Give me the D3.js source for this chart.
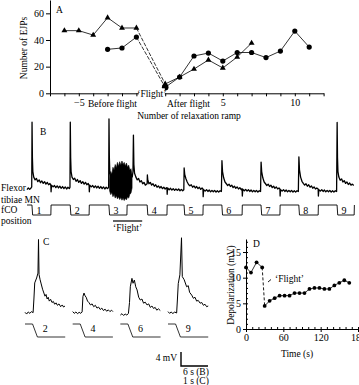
<!DOCTYPE html>
<html>
<head>
<meta charset="utf-8">
<script src="https://cdn.jsdelivr.net/npm/d3@7"></script>
<style>
body { margin: 0; background: #fff; }
svg text { font-family: "Liberation Serif", "Times New Roman", serif; fill: #000; }
</style>
</head>
<body>
<script>
// ---------- panel A : number of EJPs per relaxation ramp
var rampBefore = [-6, -5, -4, -3, -2, -1];
var ejpTriBefore = [47, 47, 43.7, 56.7, 49, 49];
var rampCircBefore = [-3, -2, -1];
var ejpCircBefore = [33, 34, 42.2];
var rampFlight = 1;
var ejpTriFlight = 7;
var ejpCircFlight = 4.5;
var rampTriAfter = [2, 3, 4, 5, 6, 7];
var ejpTriAfter = [12.2, 18.2, 25, 19, 27.2, 37.7];
var rampCircAfter = [2, 3, 4, 5, 6, 7, 8, 9, 10, 11];
var ejpCircAfter = [12.2, 28, 30.2, 24.2, 30.6, 30.6, 26.8, 31.7, 46.7, 34.7];
var ticksAy = [0, 20, 40, 60];
var ticksAxLabelled = [-5, 5, 10];

// ---------- panel B : flexor tibiae MN recording (s, mV) and fCO ramps (s)
var rampFall = [1.1, 9.6, 18.2, 26.7, 34.9, 43.3, 52.0, 60.4, 68.9];
var rampRise = [5.3, 13.8, 22.2, 31.1, 39.1, 47.8, 56.2, 64.7, 72.7];
var rampNames = ['1', '2', '3', '4', '5', '6', '7', '8', '9'];
var traceB = [
  [0,-0.2],[0.3,0.3],[0.6,-0.1],[0.9,0.3],[1.05,0.6],[1.12,19.1],[1.2,9],[1.3,5],[1.5,3.4],[1.8,2.6],[2.1,3.0],[2.4,2.1],[2.7,2.6],[3.0,1.8],[3.3,2.3],[3.6,1.6],[3.9,2.1],[4.2,1.4],[4.5,1.9],[4.8,1.2],[5.1,1.6],[5.3,1.0],[5.35,-0.8],[5.45,1.1],[5.8,0.6],[6.1,1.0],[6.4,0.4],[6.7,0.9],[7.0,0.3],[7.3,0.8],[7.6,0.2],[7.9,0.7],[8.2,0.1],[8.5,0.6],[8.8,0.0],[9.1,0.5],[9.4,0.1],
  [9.55,0.5],[9.62,19.1],[9.7,9],[9.8,5],[10.0,3.4],[10.3,2.7],[10.6,3.1],[10.9,2.2],[11.2,2.7],[11.5,1.9],[11.8,2.4],[12.1,1.6],[12.4,2.1],[12.7,1.4],[13.0,1.9],[13.3,1.2],[13.6,1.6],[13.8,1.0],[13.85,-0.8],[13.95,1.1],[14.3,0.6],[14.6,1.0],[14.9,0.4],[15.2,0.9],[15.5,0.3],[15.8,0.8],[16.1,0.2],[16.4,0.7],[16.7,0.1],[17.0,0.6],[17.3,0.0],[17.6,0.5],[17.9,0.1],
  [18.15,0.5],[18.22,20],[18.3,9],[18.4,5],[18.6,3],[19.0,4],[19.5,2],[20.0,4],[20.5,2],[21.0,4.5],[21.5,2],[22.0,4.5],[22.5,2.5],[23.0,4],[23.4,3.5],[23.55,5],[23.65,15.4],[23.75,7],[23.9,4.5],[24.2,3.4],[24.5,2.6],[24.8,3.0],[25.1,2.0],[25.4,2.4],[25.7,1.5],[26.0,1.9],[26.3,1.1],[26.6,1.4],[26.7,1.5],[26.75,4.0],[26.85,2.5],[27.1,1.5],[27.4,1.9],[27.7,1.1],[28.0,1.5],[28.3,0.8],[28.6,1.2],[28.9,0.5],[29.2,0.9],[29.5,0.3],[29.8,0.7],[30.1,0.1],[30.4,0.5],[30.7,0.0],[31.0,0.4],
  [31.1,0.2],[31.15,-1.5],[31.25,0.3],[31.6,-0.2],[31.9,0.2],[32.2,-0.3],[32.5,0.1],[32.8,-0.4],[33.1,0.0],[33.4,-0.4],[33.7,0.0],[34.0,-0.5],[34.3,-0.1],[34.6,-0.5],[34.85,-0.2],
  [34.92,6.0],[35.05,4.2],[35.3,3.0],[35.6,2.0],[35.9,1.3],[36.2,0.9],[36.5,1.2],[36.8,0.5],[37.1,0.9],[37.4,0.3],[37.7,0.7],[38.0,0.1],[38.3,0.5],[38.6,-0.1],[38.9,0.3],[39.1,0.0],[39.15,-2.2],[39.25,-0.2],[39.6,-0.6],[39.9,-0.2],[40.2,-0.7],[40.5,-0.3],[40.8,-0.8],[41.1,-0.4],[41.4,-0.8],[41.7,-0.4],[42.0,-0.9],[42.3,-0.5],[42.6,-0.9],[42.9,-0.5],[43.2,-0.7],
  [43.32,8.1],[43.45,5],[43.7,3.2],[44.0,2.0],[44.3,1.5],[44.6,1.0],[44.9,1.4],[45.2,0.7],[45.5,1.1],[45.8,0.4],[46.1,0.8],[46.4,0.2],[46.7,0.6],[47.0,0.0],[47.3,0.4],[47.6,-0.2],[47.8,0.1],[47.85,-2.0],[47.95,-0.1],[48.3,-0.5],[48.6,-0.1],[48.9,-0.6],[49.2,-0.2],[49.5,-0.7],[49.8,-0.3],[50.1,-0.8],[50.4,-0.4],[50.7,-0.8],[51.0,-0.4],[51.3,-0.9],[51.6,-0.5],[51.9,-0.7],
  [52.02,7.7],[52.15,5],[52.4,3.2],[52.7,2.0],[53.0,1.5],[53.3,1.0],[53.6,1.4],[53.9,0.7],[54.2,1.1],[54.5,0.4],[54.8,0.8],[55.1,0.2],[55.4,0.6],[55.7,0.0],[56.0,0.3],[56.2,0.0],[56.25,-2.0],[56.35,-0.2],[56.7,-0.6],[57.0,-0.2],[57.3,-0.7],[57.6,-0.3],[57.9,-0.8],[58.2,-0.4],[58.5,-0.8],[58.8,-0.4],[59.1,-0.9],[59.4,-0.5],[59.7,-0.9],[60.0,-0.5],[60.3,-0.7],
  [60.42,9.2],[60.55,5.5],[60.8,3.4],[61.1,2.2],[61.4,1.6],[61.7,1.1],[62.0,1.5],[62.3,0.8],[62.6,1.2],[62.9,0.5],[63.2,0.9],[63.5,0.2],[63.8,0.6],[64.1,0.0],[64.4,0.3],[64.7,0.0],[64.75,-2.0],[64.85,-0.2],[65.2,-0.6],[65.5,-0.2],[65.8,-0.7],[66.1,-0.3],[66.4,-0.8],[66.7,-0.4],[67.0,-0.8],[67.3,-0.4],[67.6,-0.9],[67.9,-0.5],[68.2,-0.9],[68.5,-0.5],[68.8,-0.7],
  [68.92,19.0],[69.0,9],[69.1,5],[69.3,3.4],[69.6,2.5],[69.9,2.9],[70.2,2.0],[70.5,2.4],[70.8,1.6],[71.1,2.0],[71.4,1.3],[71.7,1.7],[72.0,1.1],[72.3,1.4],[72.6,1.0]
];
// envelope of the 'flight' burst during ramp 3
var burstT  = [18.35, 18.6, 18.85, 19.1, 19.35, 19.6, 19.85, 20.1, 20.35, 20.6, 20.85, 21.1, 21.35, 21.6, 21.85, 22.1, 22.35, 22.6, 22.85, 23.1, 23.35];
var burstHi = [3, 5, 4.2, 6.2, 5.4, 7, 6, 7.6, 6.5, 7.8, 6.8, 8, 7, 7.6, 6.6, 7.4, 6.2, 6.8, 5.4, 5.8, 4];
var burstLo = [-0.5, -1.6, -1, -2.2, -1.5, -2.6, -1.9, -2.8, -2.2, -3.0, -2.4, -3.2, -2.6, -3.3, -2.7, -3.1, -2.3, -2.6, -1.5, -1.2, 0.3];
var flightBarB = [19.1, 25.6];

// ---------- panel C : single EJPs on ramps 2, 4, 6, 9 (s, mV)
var cNames = ['2', '4', '6', '9'];
var cTrace2 = [[0,0.2],[0.06,-0.3],[0.12,0.3],[0.18,-0.1],[0.24,0.4],[0.3,0.1],[0.33,4],[0.36,8.6],[0.43,10],[0.48,11.4],[0.5,21],[0.52,11],[0.56,9.5],[0.6,8.3],[0.65,6.8],[0.7,5.7],[0.74,4.8],[0.78,5.3],[0.82,4.0],[0.86,4.5],[0.9,3.4],[0.95,3.9],[1.0,3.0],[1.05,3.3],[1.1,2.5],[1.15,2.9],[1.2,2.2],[1.26,2.6],[1.32,1.8],[1.38,2.3],[1.43,1.7],[1.48,2.0]];
var cTrace4 = [[0,0.4],[0.06,-0.1],[0.12,0.3],[0.18,-0.2],[0.24,0.2],[0.3,-0.1],[0.35,0.3],[0.38,4.7],[0.42,5.7],[0.46,4.9],[0.5,4.5],[0.55,3.4],[0.6,3.0],[0.66,2.3],[0.72,2.6],[0.78,1.8],[0.84,2.2],[0.9,1.4],[0.96,1.7],[1.02,1.0],[1.08,1.4],[1.14,0.7],[1.2,1.1],[1.26,0.5],[1.32,0.9],[1.38,0.4],[1.44,0.8],[1.49,0.4]];
var cTrace6 = [[0,-0.6],[0.06,-0.2],[0.12,-0.7],[0.18,-0.3],[0.24,-0.6],[0.3,-0.1],[0.34,3],[0.37,7.5],[0.43,9.9],[0.47,8.5],[0.52,9.4],[0.57,7.5],[0.62,6.6],[0.68,4.5],[0.74,3.7],[0.8,4.0],[0.86,2.8],[0.92,3.1],[0.99,2.3],[1.05,2.6],[1.11,1.6],[1.17,2.0],[1.23,1.3],[1.29,1.6],[1.35,0.8],[1.41,1.2],[1.48,0.7]];
var cTrace9 = [[0,0.4],[0.06,-0.1],[0.12,0.3],[0.18,-0.2],[0.24,0.3],[0.32,0.0],[0.35,4],[0.38,8.4],[0.44,10.9],[0.5,21.5],[0.53,10.4],[0.6,9.5],[0.69,7.5],[0.75,7.8],[0.8,5.9],[0.88,5.1],[0.94,4.2],[1.0,4.5],[1.06,3.4],[1.12,3.6],[1.19,2.8],[1.25,3.0],[1.31,2.2],[1.37,2.5],[1.43,1.8],[1.49,2.0]];
var rampCT = [0, 0.28, 0.46, 1.49];
var rampCPos = [1, 1, 0, 0];

// ---------- panel D : depolarization vs time
var dTimeBefore = [0, 8, 17, 26];
var dDepolBefore = [12, 11, 13, 12];
var dTimeAfter = [30, 38, 46, 54, 62, 70, 78, 86, 94, 102, 110, 118, 126, 134, 142, 150, 158, 166];
var dDepolAfter = [4.5, 5.5, 6, 6.5, 6.5, 6.5, 7, 7, 7, 7.8, 8, 8, 7.8, 7.8, 8.5, 9, 9.5, 9];
var ticksDx = [0, 60, 120, 180];
var ticksDy = [0, 5, 10, 15];

var FS = 9.5;   // word labels
var FT = 10;    // tick numbers

var svg = d3.select('body').append('svg').attr('width', 359).attr('height', 385);
svg.append('rect').attr('width', 359).attr('height', 385).attr('fill', '#fff');

function txt(x, y, s, size, anchor) {
  return svg.append('text').attr('x', x).attr('y', y)
    .attr('font-size', size || FS)
    .attr('text-anchor', anchor || 'start')
    .text(s);
}
function zip(a, b) { return a.map(function(d, i) { return [d, b[i]]; }); }

// ================= A
var xA = d3.scaleLinear().domain([-7, 12]).range([50, 323.6]);
var yA = d3.scaleLinear().domain([0, 70]).range([93.3, 0]);

svg.append('g').attr('transform', 'translate(0,' + yA(0) + ')')
  .call(d3.axisBottom(xA).tickValues(d3.range(-7, 13)).tickSize(3).tickSizeOuter(0).tickPadding(2.5)
    .tickFormat(function(d) { return ticksAxLabelled.indexOf(d) >= 0 ? d3.format('d')(d) : ''; }))
  .attr('font-size', FT);
svg.append('g').attr('transform', 'translate(' + xA(-7) + ',0)')
  .call(d3.axisLeft(yA).tickValues(ticksAy).tickSize(4).tickSizeOuter(0).tickPadding(2))
  .attr('font-size', FT);

var lineA = d3.line().x(function(d) { return xA(d[0]); }).y(function(d) { return yA(d[1]); });
var triB = zip(rampBefore, ejpTriBefore), circB = zip(rampCircBefore, ejpCircBefore);
var triA = [[rampFlight, ejpTriFlight]].concat(zip(rampTriAfter, ejpTriAfter));
var circA = [[rampFlight, ejpCircFlight]].concat(zip(rampCircAfter, ejpCircAfter));

[triB, circB, triA, circA].forEach(function(s) {
  svg.append('path').attr('d', lineA(s)).attr('fill', 'none').attr('stroke', '#000').attr('stroke-width', 0.8);
});
svg.append('path').attr('d', lineA([triB[triB.length - 1], triA[0]]))
  .attr('fill', 'none').attr('stroke', '#000').attr('stroke-width', 0.8).attr('stroke-dasharray', '4,1.5');
svg.append('path').attr('d', lineA([circB[circB.length - 1], circA[0]]))
  .attr('fill', 'none').attr('stroke', '#000').attr('stroke-width', 0.8).attr('stroke-dasharray', '4,1.5');

svg.selectAll(null).data(triB.concat(triA)).enter().append('path')
  .attr('d', d3.symbol(d3.symbolTriangle, 15))
  .attr('transform', function(d) { return 'translate(' + xA(d[0]) + ',' + yA(d[1]) + ')'; });
svg.selectAll(null).data(circB.concat(circA)).enter().append('circle')
  .attr('cx', function(d) { return xA(d[0]); })
  .attr('cy', function(d) { return yA(d[1]); })
  .attr('r', function(d) { return d[0] === rampFlight ? 3.3 : 2.6; });

svg.append('rect').attr('x', xA(0) - 12).attr('y', yA(0) - 5).attr('width', 26).attr('height', 10).attr('fill', '#fff');
txt(xA(0) + 1, yA(0) + 3.5, '\u2018Flight\u2019', FS, 'middle');
txt(88, 106.5, 'Before flight');
txt(210, 106.5, 'After flight', FS, 'end');
txt(189, 118.5, 'Number of relaxation ramp', FS, 'middle');
txt(56, 12.5, 'A', FS);
svg.append('text').attr('transform', 'translate(27,48) rotate(-90)')
  .attr('font-size', FS).attr('text-anchor', 'middle').text('Number of EJPs');

// ================= B
var xB = d3.scaleLinear().domain([0, 73]).range([27, 355.5]);
var yB = d3.scaleLinear().domain([0, 20]).range([189, 119]);
var yRampB = d3.scaleLinear().domain([0, 1]).range([215, 205]);

svg.append('path')
  .attr('d', d3.area().x(function(d) { return xB(d[0]); })
    .y0(function(d) { return yB(d[2]); }).y1(function(d) { return yB(d[1]); })
    (burstT.map(function(t, i) { return [t, burstHi[i], burstLo[i]]; })))
  .attr('fill', '#000').attr('stroke', '#000').attr('stroke-width', 0.6);
svg.append('path')
  .attr('d', d3.line().x(function(d) { return xB(d[0]); }).y(function(d) { return yB(d[1]); })(traceB))
  .attr('fill', 'none').attr('stroke', '#000').attr('stroke-width', 1.3).attr('stroke-linejoin', 'round');

var rampPts = [[0, 1]];
rampFall.forEach(function(f, i) {
  rampPts.push([f, 1], [f + 0.15, 0], [rampRise[i], 0], [rampRise[i] + 0.05, 1]);
});
svg.append('path')
  .attr('d', d3.line().x(function(d) { return xB(d[0]); }).y(function(d) { return yRampB(d[1]); })(rampPts))
  .attr('fill', 'none').attr('stroke', '#000').attr('stroke-width', 0.9);
rampFall.forEach(function(f, i) {
  txt(xB(f) + 7, 213.5, rampNames[i], FT, 'middle');
});
svg.append('line').attr('x1', xB(flightBarB[0])).attr('x2', xB(flightBarB[1]))
  .attr('y1', 221).attr('y2', 221).attr('stroke', '#000').attr('stroke-width', 1.2);
txt((xB(flightBarB[0]) + xB(flightBarB[1])) / 2, 231, '\u2018Flight\u2019', FS, 'middle');
txt(40, 134.5, 'B', FS);
txt(1, 190.5, 'Flexor', FS);
txt(1, 202.5, 'tibiae MN', FS);
txt(1, 212.5, 'fCO', FS);
txt(1, 224, 'position', FS);

// ================= C
var xCpos = d3.scalePoint().domain(cNames).range([25, 168]);
var xCt = d3.scaleLinear().domain([0, 1]).range([0, 27]);
var yC = d3.scaleLinear().domain([0, 20]).range([313, 243]);
var yRampC = d3.scaleLinear().domain([0, 1]).range([337, 324]);
var cTraces = [cTrace2, cTrace4, cTrace6, cTrace9];

cNames.forEach(function(n, i) {
  var x0 = xCpos(n);
  svg.append('path')
    .attr('d', d3.line().x(function(d) { return x0 + xCt(d[0]); }).y(function(d) { return yC(d[1]); })(cTraces[i]))
    .attr('fill', 'none').attr('stroke', '#000').attr('stroke-width', 1).attr('stroke-linejoin', 'round');
  svg.append('path')
    .attr('d', d3.line().x(function(d) { return x0 + xCt(d[0]); }).y(function(d) { return yRampC(d[1]); })(zip(rampCT, rampCPos)))
    .attr('fill', 'none').attr('stroke', '#000').attr('stroke-width', 0.8);
  txt(x0 + xCt(0.75), 332, n, FT, 'middle');
});
txt(43, 245, 'C', FS);

// scale bar: 4 mV, 6 s (B) / 1 s (C)
var sbX = 181, sbY = 366;
svg.append('path')
  .attr('d', 'M' + sbX + ',' + (sbY - (yC(0) - yC(4))) + 'V' + sbY + 'H' + (sbX + xCt(1)))
  .attr('fill', 'none').attr('stroke', '#000').attr('stroke-width', 1.4);
txt(177, 361, '4 mV', FS, 'end');
txt(183, 375, '6 s (B)', FS, 'start');
txt(183, 384, '1 s (C)', FS, 'start');

// ================= D
var xD = d3.scaleLinear().domain([0, 180]).range([246, 358]);
var yD = d3.scaleLinear().domain([0, 17.5]).range([329, 239.2]);

svg.append('g').attr('transform', 'translate(0,' + yD(0) + ')')
  .call(d3.axisBottom(xD).tickValues(d3.range(0, 181, 10)).tickSize(-2).tickSizeOuter(0).tickFormat(''));
svg.append('g').attr('transform', 'translate(0,' + yD(0) + ')')
  .call(d3.axisBottom(xD).tickValues(ticksDx).tickSize(3).tickSizeOuter(0).tickPadding(2))
  .attr('font-size', FT);
svg.append('g').attr('transform', 'translate(' + xD(0) + ',0)')
  .call(d3.axisLeft(yD).tickValues(d3.range(0, 18)).tickSize(-2).tickSizeOuter(0).tickFormat(''));
svg.append('g').attr('transform', 'translate(' + xD(0) + ',0)')
  .call(d3.axisLeft(yD).tickValues(ticksDy).tickSize(3).tickSizeOuter(0).tickPadding(2))
  .attr('font-size', FT);

var lineD = d3.line().x(function(d) { return xD(d[0]); }).y(function(d) { return yD(d[1]); });
var dB = zip(dTimeBefore, dDepolBefore), dA = zip(dTimeAfter, dDepolAfter);
svg.append('path').attr('d', lineD(dB)).attr('fill', 'none').attr('stroke', '#000').attr('stroke-width', 0.8);
svg.append('path').attr('d', lineD(dA)).attr('fill', 'none').attr('stroke', '#000').attr('stroke-width', 0.8);
svg.append('path').attr('d', lineD([dB[dB.length - 1], dA[0]]))
  .attr('fill', 'none').attr('stroke', '#000').attr('stroke-width', 0.9).attr('stroke-dasharray', '3,2');
svg.selectAll(null).data(dB.concat(dA)).enter().append('circle')
  .attr('cx', function(d) { return xD(d[0]); })
  .attr('cy', function(d) { return yD(d[1]); })
  .attr('r', 1.9);

svg.append('line').attr('x1', 268).attr('y1', 282).attr('x2', 271).attr('y2', 279.5)
  .attr('stroke', '#000').attr('stroke-width', 0.9);
txt(275, 281.5, '\u2018Flight\u2019', FS, 'start');
txt(297, 357, 'Time (s)', FS, 'middle');
txt(253, 247, 'D', FS);
svg.append('text').attr('transform', 'translate(234,285) rotate(-90)')
  .attr('font-size', FS).attr('text-anchor', 'middle').text('Depolarization (mV)');
</script>
</body>
</html>
